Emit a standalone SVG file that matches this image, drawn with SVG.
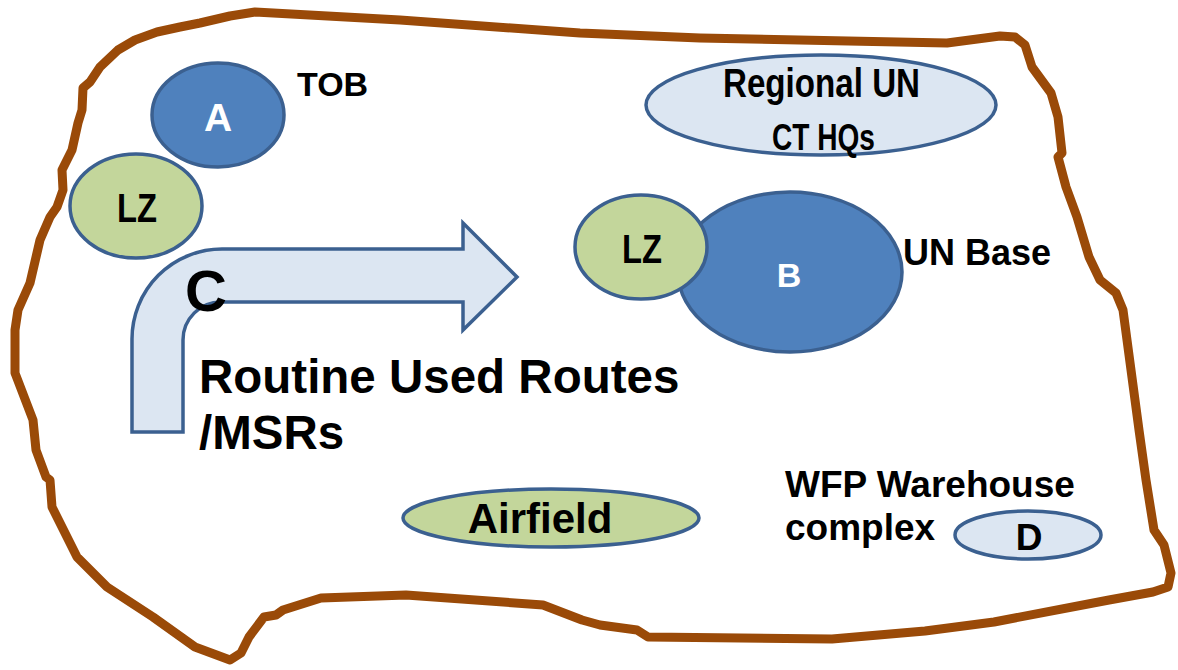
<svg xmlns="http://www.w3.org/2000/svg" width="1178" height="670" viewBox="0 0 1178 670">
<style>
.bg{fill:#ffffff}
.border{fill:none;stroke:#9A4A08;stroke-width:9;stroke-linejoin:round;stroke-linecap:round}
.shape{stroke:#3B6090;stroke-width:3.5}
.dark{fill:#4F81BD}
.green{fill:#C3D69B}
.light{fill:#DCE6F2}
.t{font-family:"Liberation Sans",Arial,sans-serif;font-weight:bold;fill:#000}
.w{fill:#ffffff}
.m{text-anchor:middle}
</style>
<rect class="bg" x="0" y="0" width="1178" height="670"/>
<g id="area-border">
<path class="border" d="M118,50 L135,40 L157,32 L180,27 L200,23 L230,16 L255,12 L400,20 L580,33 L700,38 L947,43 L1000,36 L1015,37 L1025,45 L1032,67 L1051,93 L1058,117 L1062,153 L1058,157 L1066,187 L1077,217 L1089,257 L1100,280 L1116,293 L1123,310 L1127,340 L1131,370 L1139,430 L1146,480 L1154,530 L1164,545 L1171,573 L1168,587 L1153,592 L1109,600 L994,622 L925,631 L832,639 L648,637 L637,630 L600,625 L582,620 L543,605 L406,595 L321,598 L283,610 L276,615 L264,617 L249,637 L241,653 L230,660 L195,647 L153,617 L107,587 L77,557 L52,507 L50,480 L46,477 L36,450 L33,420 L15,373 L15,330 L18,310 L30,283 L40,240 L50,217 L57,207 L63,190 L62,170 L72,150 L78,123 L82,110 L83,88 L90,82 L100,67 Z"/>
</g>
<g id="connectors"></g>
<g id="node-a">
<ellipse class="shape dark" cx="218" cy="115" rx="66" ry="52"/>
<text class="t w m" x="218" y="131" font-size="39">A</text>
<text class="t" x="297" y="96" font-size="34">TOB</text>
</g>
<g id="node-lz1">
<ellipse class="shape green" cx="136" cy="206" rx="66" ry="52"/>
<text class="t" x="117" y="222" font-size="40" textLength="40" lengthAdjust="spacingAndGlyphs">LZ</text>
</g>
<g id="node-c">
<path class="shape light" d="M132,432 L132,339 A90,90 0 0 1 222,249 L463,249 L463,223 L517,277 L463,330 L463,302 L221,302 A38,38 0 0 0 183,340 L183,432 Z"/>
<text class="t" x="185" y="311" font-size="58">C</text>
<text class="t" x="199" y="393" font-size="47.5">Routine Used Routes</text>
<text class="t" x="199" y="449" font-size="47.5">/MSRs</text>
</g>
<g id="node-hq">
<ellipse class="shape light" cx="821" cy="105" rx="175" ry="50"/>
<text class="t" x="723" y="97" font-size="41" textLength="197" lengthAdjust="spacingAndGlyphs">Regional UN</text>
<text class="t" x="772" y="150" font-size="37" textLength="103" lengthAdjust="spacingAndGlyphs">CT HQs</text>
</g>
<g id="node-b">
<ellipse class="shape dark" cx="790" cy="272" rx="112" ry="80"/>
<text class="t w m" x="789" y="287" font-size="34">B</text>
<text class="t" x="903" y="265" font-size="36">UN Base</text>
</g>
<g id="node-lz2">
<ellipse class="shape green" cx="641" cy="247" rx="66" ry="52"/>
<text class="t" x="622" y="263" font-size="40" textLength="40" lengthAdjust="spacingAndGlyphs">LZ</text>
</g>
<g id="node-airfield">
<ellipse class="shape green" cx="551" cy="518" rx="148" ry="29"/>
<text class="t m" x="540" y="533" font-size="42">Airfield</text>
</g>
<g id="node-d">
<ellipse class="shape light" cx="1028" cy="535" rx="73" ry="24"/>
<text class="t m" x="1029" y="550" font-size="37">D</text>
<text class="t" x="785" y="497" font-size="37">WFP Warehouse</text>
<text class="t" x="785" y="540" font-size="37">complex</text>
</g>
</svg>
